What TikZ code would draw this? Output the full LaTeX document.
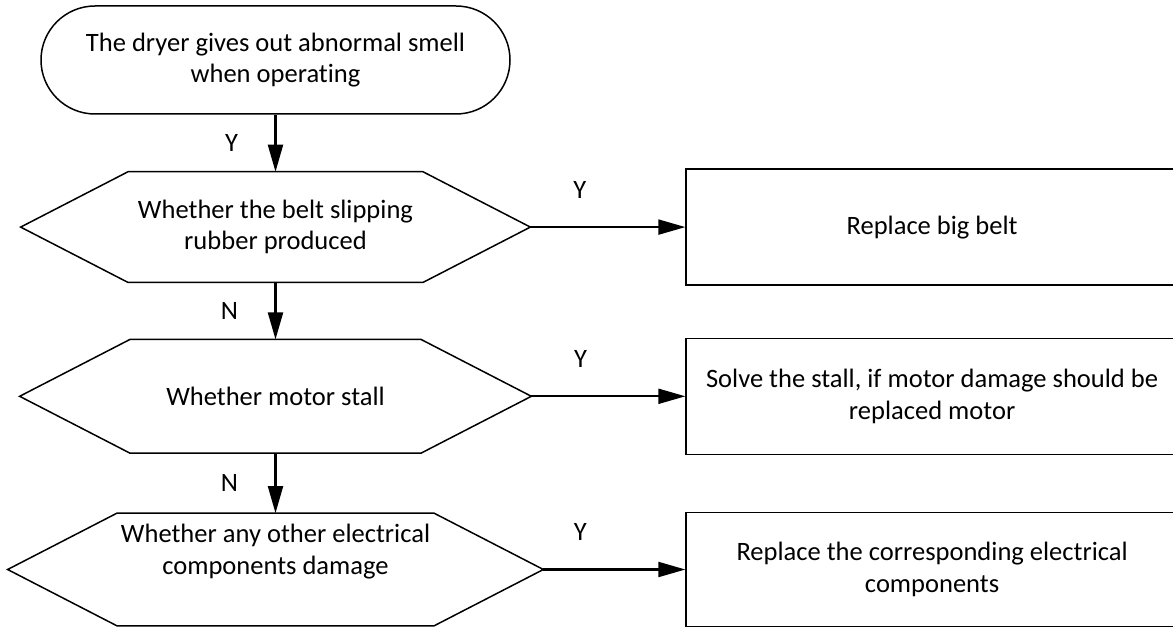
\documentclass[tikz,border=0pt]{standalone}
\usepackage{fontspec}
\setmainfont{Carlito}[Ligatures=NoCommon]
\usepackage{tikz}
\usetikzlibrary{positioning, arrows.meta, calc}

\begin{document}
\begin{tikzpicture}[
  startnode/.style={draw, line width=0.85pt, rectangle, rounded corners=1.08cm,
    minimum width=9.38cm, minimum height=2.16cm, align=center},
  decnode/.style={rectangle, minimum height=2.2cm, align=center},
  actnode/.style={draw, line width=0.85pt, rectangle, minimum width=9.84cm,
    minimum height=2.32cm, align=center},
  flow/.style={-{Triangle[length=0.54cm, width=0.3cm]}, line width=1.15pt},
  lab/.style={inner sep=0pt},
  font=\fontsize{15.1}{17.8}\selectfont
]
  \useasboundingbox (0,0) rectangle (23.46,-12.54);

  % 1. Start of the check
  \node[startnode] (start) at (5.51,-1.2) {The dryer gives out abnormal smell\\when operating};

  % 2. Questions (hexagons drawn below)
  \node[decnode, minimum width=10.18cm, below=1.14cm of start] (q1) {Whether the belt slipping\\rubber produced};
  \node[decnode, minimum width=10.22cm, minimum height=2.26cm, below=1.14cm of q1] (q2) {Whether motor stall};
  \node[decnode, minimum width=10.7cm, minimum height=2.24cm, below=1.2cm of q2] (q3) {Whether any other electrical\\components damage\\ \strut};

  \foreach \q in {q1,q2,q3}
    \draw[line width=0.85pt] let \p1=(\q.north), \p2=(\q.south), \n1={\y1-\y2} in
      (\q.west) -- ([xshift=0.97*\n1]\q.north west) -- ([xshift=-0.97*\n1]\q.north east)
      -- (\q.east) -- ([xshift=-0.97*\n1]\q.south east) -- ([xshift=0.97*\n1]\q.south west) -- cycle;

  % 3. Actions
  \node[actnode, right=3.1cm of q1] (a1) {Replace big belt};
  \node[actnode, right=3.08cm of q2] (a2) {Solve the stall, if motor damage should be\\replaced motor};
  \node[actnode, minimum height=2.28cm, right=2.84cm of q3] (a3) {Replace the corresponding electrical\\components};

  % 4. Connectors
  \draw[flow] (start) -- node[lab, left=0.73cm] {Y} (q1);
  \draw[flow] (q1) -- node[lab, left=0.73cm] {N} (q2);
  \draw[flow] (q2) -- node[lab, left=0.73cm] {N} (q3);

  \draw[flow] (q1) -- node[lab, pos=0.32, above=0.55cm] {Y} (a1);
  \draw[flow] (q2) -- node[lab, pos=0.32, above=0.55cm] {Y} (a2);
  \draw[flow] (q3) -- node[lab, pos=0.26, above=0.55cm] {Y} (a3);

\end{tikzpicture}
\end{document}
